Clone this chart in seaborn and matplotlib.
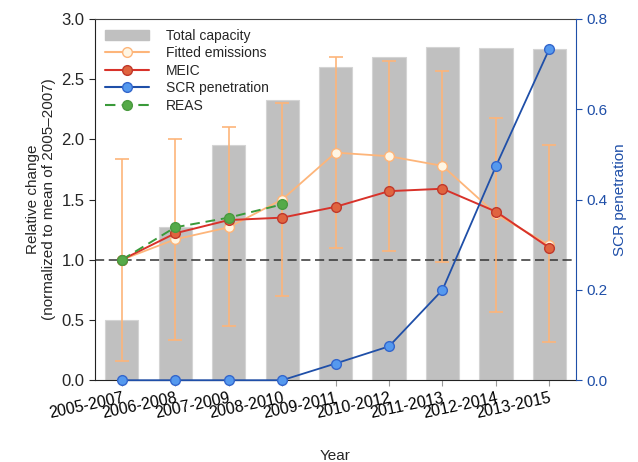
import matplotlib
matplotlib.use("Agg")
import matplotlib.pyplot as plt
import matplotlib.patches as mpatches
import matplotlib.lines as mlines
import numpy as np
import pandas as pd
import seaborn as sns

years = ["2005-2007", "2006-2008", "2007-2009", "2008-2010", "2009-2011",
         "2010-2012", "2011-2013", "2012-2014", "2013-2015"]
capacity = [0.50, 1.27, 1.95, 2.33, 2.60, 2.68, 2.77, 2.76, 2.75]
fitted = [1.00, 1.17, 1.27, 1.50, 1.89, 1.86, 1.78, 1.38, 1.12]
fitted_hi = [1.84, 2.00, 2.10, 2.30, 2.68, 2.65, 2.57, 2.18, 1.95]
fitted_lo = [0.16, 0.33, 0.45, 0.70, 1.10, 1.07, 0.98, 0.57, 0.32]
meic = [1.00, 1.22, 1.33, 1.35, 1.44, 1.57, 1.59, 1.40, 1.10]
reas = [1.00, 1.27, 1.35, 1.46]
scr = [0.0, 0.0, 0.0, 0.0, 0.037, 0.075, 0.20, 0.474, 0.734]

sns.set_style("ticks")
plt.rcParams["font.family"] = ["Liberation Sans", "DejaVu Sans"]
plt.rcParams["font.size"] = 10.5

blue = "#1f4fa8"
c_fit = "#fdb57a"
c_meic = "#d8322a"
c_reas = "#3a9a3a"

df = pd.DataFrame({"Year": years, "Capacity": capacity})

fig, ax = plt.subplots(figsize=(6.38, 4.62), dpi=100)
fig.subplots_adjust(left=0.149, right=0.903, bottom=0.177, top=0.959)

sns.barplot(data=df, x="Year", y="Capacity", color="#c0c0c0", saturation=1,
            width=0.62, ax=ax, zorder=1, edgecolor="#d4d4d4", linewidth=0.8)

xs = np.arange(len(years))
ax.axhline(1.0, color="#333333", ls=(0, (6, 3)), lw=1.1, zorder=2)

f = np.array(fitted)
yerr = [f - np.array(fitted_lo), np.array(fitted_hi) - f]
ax.errorbar(xs, f, yerr=yerr, fmt="none", ecolor=c_fit, elinewidth=1.2,
            capsize=5, capthick=1.2, zorder=3)
ax.plot(xs, f, color=c_fit, lw=1.3, marker="o", ms=7, mfc="#fff6e4",
        mec=c_fit, zorder=4)
ax.plot(xs, meic, color=c_meic, lw=1.4, marker="o", ms=7, mfc="#e0643f",
        mec="#c0392b", zorder=5)
ax.plot(xs[:len(reas)], reas, color=c_reas, lw=1.4, ls=(0, (5, 3)),
        marker="o", ms=7, mfc="#55aa48", mec="#4a9a40", zorder=6)

ax.set_xlim(-0.5, len(years) - 0.5)
ax.set_ylim(0, 3.0)
ax.set_yticks(np.arange(0, 3.01, 0.5))
ax.set_yticklabels([f"{v:.1f}" for v in np.arange(0, 3.01, 0.5)])
ax.set_ylabel("Relative change\n(normalized to mean of 2005\u20132007)", fontsize=11)
ax.set_xlabel("Year", labelpad=20, fontsize=11)
ax.set_xticks(xs)
ax.set_xticklabels(years, rotation=12, ha="right", rotation_mode="anchor")
ax.tick_params(axis="x", colors="#999999", labelcolor="black", length=4,
               labelsize=11.5)
ax.tick_params(axis="y", length=4, labelsize=12)
for s in ["left", "bottom"]:
    ax.spines[s].set_color("#222222")
ax.spines["top"].set_color("#444444")
ax.spines["top"].set_visible(True)
ax.spines["right"].set_visible(False)

ax2 = ax.twinx()
ax2.plot(xs, scr, color=blue, lw=1.3, marker="o", ms=7, mfc="#5599ee",
         mec="#3366cc", zorder=7, clip_on=False)
ax2.set_ylim(0, 0.8)
ax2.set_yticks([0, 0.2, 0.4, 0.6, 0.8])
ax2.set_yticklabels(["0.0", "0.2", "0.4", "0.6", "0.8"])
ax2.set_ylabel("SCR penetration", color=blue, fontsize=11)
ax2.tick_params(axis="y", colors=blue, length=4, labelsize=11)
ax2.spines["right"].set_color(blue)
ax2.spines["right"].set_visible(True)
ax2.spines["left"].set_visible(False)
ax2.spines["top"].set_visible(False)
ax2.spines["bottom"].set_visible(False)

handles = [
    mpatches.Patch(color="#c0c0c0", label="Total capacity"),
    mlines.Line2D([], [], color=c_fit, marker="o", ms=7, mfc="#fff6e4", mec=c_fit, label="Fitted emissions"),
    mlines.Line2D([], [], color=c_meic, marker="o", ms=7, mfc="#e0643f", mec="#c0392b", label="MEIC"),
    mlines.Line2D([], [], color=blue, marker="o", ms=7, mfc="#5599ee", mec="#3366cc", label="SCR penetration"),
    mlines.Line2D([], [], color=c_reas, ls=(0, (5, 3)), marker="o", ms=7, mfc="#55aa48", mec="#4a9a40", label="REAS"),
]
ax2.legend(handles=handles, loc="upper left", frameon=False, handlelength=3.2,
           borderaxespad=0.3, labelspacing=0.25, handletextpad=1.2,
           fontsize=10, bbox_to_anchor=(0.0, 1.0))

fig.savefig("out.png", dpi=100)
